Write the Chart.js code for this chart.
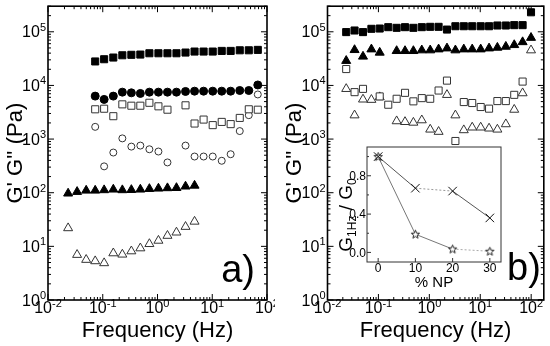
<!DOCTYPE html>
<html>
<head>
<meta charset="utf-8">
<script src="https://cdn.jsdelivr.net/npm/chart.js@4.4.1/dist/chart.umd.min.js"></script>
<style>
  html, body { margin: 0; padding: 0; background: #fff; }
  #wrap { position: relative; width: 550px; height: 346px; overflow: hidden; }
  canvas { position: absolute; }
  #chartA { left: 0; top: 0; }
  #chartB { left: 275px; top: 0; }
  #inset { left: 330px; top: 140px; }
</style>
</head>
<body>
<div id="wrap">
  <canvas id="chartA" width="275" height="346"></canvas>
  <canvas id="chartB" width="275" height="346"></canvas>
  <canvas id="inset" width="178" height="160"></canvas>
</div>
<script>
// frequency sweep (Hz), shared by both panels
const freqHz = [0.0233, 0.0340, 0.0498, 0.0728, 0.106, 0.156, 0.228, 0.333, 0.486, 0.711, 1.04, 1.52,
                2.22, 3.25, 4.75, 6.95, 10.2, 14.9, 21.7, 31.8, 46.5, 67.9, 99.3];

// panel a) G' (filled) and G'' (open), Pa
const aFilledSq = [null, null, null, 28000, 30800, 33100, 36500, 37200, 37600, 39800, 39800, 39800,
                   39800, 41000, 42800, 42800, 42800, 44000, 44000, 45200, 45200, 46000, null];
const aOpenSq = [null, null, null, 3590, 3680, 2670, 4440, 4190, 4190, 4750, 4080, 3530,
                 null, 4260, 1950, 2310, 1820, 2090, 1900, 2480, 3590, 3530, null];
const aFilledCirc = [null, null, null, 6320, 5490, 6320, 7500, 7280, 7090, 7500, 7500, 7500,
                     7500, 7720, 7820, 7820, 7820, 7820, 7820, 8050, 8050, 10200, null];
const aOpenCirc = [null, null, null, 1690, 310, 561, 1030, 724, 756, 646, 586, 367,
                   null, 756, 473, 473, 473, 394, 522, 1410, 2790, 6790, null];
const aFilledTri = [97, 104, 110, 110, 112, 115, 112, 113, 115, 118, 120, 122,
                    123, 131, 136, null, null, null, null, null, null, null, null];
const aOpenTri = [21.9, 6.97, 5.63, 5.31, 4.88, 7.46, 7.06, 8.12, 9.23, 11.1, 12.8, 15.8,
                  18.2, 23.2, 29.0, null, null, null, null, null, null, null, null];

// panel b)
const bFilledSq = [98700, 105700, 98700, 113600, 115000, 122000, 118500, 122000, 118500, 122000, 123700, 123700,
                   110000, 127000, 127000, 127000, 127000, 127000, 131000, 131000, 133000, 133000, 231000];
const bOpenSq = [20200, 7500, 8630, null, 6240, 4370, 5640, 7280, 5050, 5800, 5640, 8040,
                 12300, 921, 4900, 4700, 3960, 3690, 5110, 5110, 6680, 11800, null];
const bFilledTri = [28800, 45900, 34600, 47200, 41000, null, 44000, 44000, 44000, 45300, 45300, 47200,
                    49200, 45300, 47200, 47200, 47200, 49200, 50700, 52900, 56800, 64400, 77500];
const bOpenTri = [8630, 2780, 5490, 5410, 6060, null, 2160, 2090, 2030, 2250, 1510, 1370,
                  6680, 2780, 1470, 1650, 1650, 1580, 1510, 1900, 3540, 7180, 45300];

// inset: G(1Hz)/G0 vs % NP
const insetNP = [0, 10, 20, 30];
const insetCross = [1.0, 0.67, 0.64, 0.36];
const insetStar = [1.0, 0.19, 0.035, 0.012];

// tick labels
const xDecades = [-2, -1, 0, 1, 2];
const yDecades = [0, 1, 2, 3, 4, 5];
const insetXTicks = [0, 10, 20, 30];
const insetYTicks = [0.0, 0.4, 0.8];

const FONT = '"Liberation Sans", Arial, Helvetica, sans-serif';
Chart.defaults.font.family = FONT;

function pts(xs, ys) {
  return xs.map((x, i) => ({ x: x, y: ys[i] })).filter(p => p.y !== null);
}

function series(vals, shape, filled, r) {
  return {
    data: pts(freqHz, vals),
    pointStyle: shape,
    pointRadius: r,
    pointBackgroundColor: filled ? '#000' : '#fff',
    pointBorderColor: filled ? '#000' : '#333',
    pointBorderWidth: 1,
    showLine: false
  };
}

// "10" with a raised exponent
function pow10(ctx, e, x, y, align) {
  const base = '10', sup = String(e);
  ctx.font = '16px ' + FONT;
  const wb = ctx.measureText(base).width;
  ctx.font = '11px ' + FONT;
  const ws = ctx.measureText(sup).width;
  const left = align === 'right' ? x - wb - ws : x - (wb + ws) / 2;
  ctx.textAlign = 'left';
  ctx.textBaseline = 'alphabetic';
  ctx.font = '16px ' + FONT;
  ctx.fillText(base, left, y);
  ctx.font = '11px ' + FONT;
  ctx.fillText(sup, left + wb, y - 6.5);
}

function richText(ctx, parts, cx, cy) {
  let w = 0;
  parts.forEach(p => { ctx.font = p[1] + 'px ' + FONT; w += ctx.measureText(p[0]).width; });
  let x = cx - w / 2;
  ctx.textAlign = 'left';
  parts.forEach(p => {
    ctx.font = p[1] + 'px ' + FONT;
    ctx.fillText(p[0], x, cy + p[2]);
    x += ctx.measureText(p[0]).width;
  });
}

// frame, inward ticks, labels and titles for the log-log panels
const logFrame = {
  id: 'logFrame',
  afterDraw(chart, args, opts) {
    const { ctx, chartArea: a, scales: { x, y } } = chart;
    ctx.save();
    ctx.strokeStyle = '#000';
    ctx.fillStyle = '#000';
    ctx.lineWidth = 1;
    ctx.beginPath();
    xDecades.forEach(e => {
      for (let m = 1; m < 10; m++) {
        const v = m * Math.pow(10, e);
        if (v > x.max * 1.0001) break;
        const px = x.getPixelForValue(v);
        const len = m === 1 ? 6 : 3;
        ctx.moveTo(px, a.bottom); ctx.lineTo(px, a.bottom - len);
        ctx.moveTo(px, a.top); ctx.lineTo(px, a.top + len);
      }
    });
    yDecades.forEach(e => {
      for (let m = 1; m < 10; m++) {
        const v = m * Math.pow(10, e);
        if (v > y.max * 1.0001) break;
        const py = y.getPixelForValue(v);
        const len = m === 1 ? 6 : 3;
        ctx.moveTo(a.left, py); ctx.lineTo(a.left + len, py);
        ctx.moveTo(a.right, py); ctx.lineTo(a.right - len, py);
      }
    });
    ctx.stroke();
    ctx.lineWidth = 1.6;
    ctx.strokeRect(a.left, a.top, a.right - a.left, a.bottom - a.top);

    xDecades.forEach(e => pow10(ctx, e, x.getPixelForValue(Math.pow(10, e)), a.bottom + 13, 'center'));
    yDecades.forEach(e => pow10(ctx, e, a.left - 2, y.getPixelForValue(Math.pow(10, e)) + 5.5, 'right'));

    ctx.font = '22px ' + FONT;
    ctx.textAlign = 'center';
    ctx.fillText('Frequency (Hz)', (a.left + a.right) / 2, a.bottom + 37);
    ctx.save();
    ctx.translate(a.left - 26.5, (a.top + a.bottom) / 2);
    ctx.rotate(-Math.PI / 2);
    ctx.fillText("G' G'' (Pa)", 0, 0);
    ctx.restore();

    ctx.font = '38px ' + FONT;
    ctx.textAlign = 'right';
    ctx.fillText(opts.tag, a.right - opts.tagRight, a.bottom - opts.tagBase);
    ctx.restore();
  }
};

function logChart(id, datasets, xMax, leftW, place, tag) {
  return new Chart(document.getElementById(id), {
    type: 'scatter',
    data: { datasets: datasets },
    options: {
      responsive: false,
      animation: false,
      layout: { padding: { top: 3, right: place.pad, left: 0, bottom: 0 } },
      plugins: {
        legend: { display: false },
        tooltip: { enabled: false },
        logFrame: { tag: tag, tagRight: place.tagRight, tagBase: place.tagBase }
      },
      scales: {
        x: {
          type: 'logarithmic', min: 0.01, max: xMax,
          grid: { display: false }, border: { display: false }, ticks: { display: false },
          afterFit: s => { s.height = 46; }
        },
        y: {
          type: 'logarithmic', min: 1, max: 3e5,
          grid: { display: false }, border: { display: false }, ticks: { display: false },
          afterFit: s => { s.width = leftW; }
        }
      }
    },
    plugins: [logFrame]
  });
}

logChart('chartA', [
  series(aFilledSq, 'rect', true, 5),
  series(aFilledCirc, 'circle', true, 4),
  series(aOpenSq, 'rect', false, 5),
  series(aOpenCirc, 'circle', false, 3.5),
  series(aFilledTri, 'triangle', true, 5.2),
  series(aOpenTri, 'triangle', false, 5.2)
], 100, 48, { pad: 8, tagRight: 12, tagBase: 18 }, 'a)');

logChart('chartB', [
  series(bFilledSq, 'rect', true, 5),
  series(bFilledTri, 'triangle', true, 5.2),
  series(bOpenSq, 'rect', false, 5),
  series(bOpenTri, 'triangle', false, 5.2)
], 177, 52.5, { pad: 6, tagRight: 3, tagBase: 20 }, 'b)');

// outlined five-point star marker for the inset
function makeStar() {
  const c = document.createElement('canvas');
  c.width = 11; c.height = 11;
  const g = c.getContext('2d');
  g.beginPath();
  for (let i = 0; i < 10; i++) {
    const r = i % 2 ? 1.9 : 4.4, t = -Math.PI / 2 + i * Math.PI / 5;
    g.lineTo(5.5 + r * Math.cos(t), 5.8 + r * Math.sin(t));
  }
  g.closePath();
  g.fillStyle = '#fff'; g.fill();
  g.strokeStyle = '#222'; g.lineWidth = 1; g.stroke();
  return c;
}

const insetFrame = {
  id: 'insetFrame',
  beforeDatasetsDraw(chart) {
    const { ctx, chartArea: a } = chart;
    ctx.save();
    ctx.fillStyle = '#fff';
    ctx.fillRect(a.left, a.top, a.right - a.left, a.bottom - a.top);
    ctx.restore();
  },
  afterDraw(chart) {
    const { ctx, chartArea: a, scales: { x, y } } = chart;
    ctx.save();
    ctx.strokeStyle = '#333';
    ctx.fillStyle = '#000';
    ctx.lineWidth = 1;
    ctx.strokeRect(a.left, a.top, a.right - a.left, a.bottom - a.top);
    ctx.beginPath();
    insetYTicks.forEach(v => {
      const py = y.getPixelForValue(v);
      ctx.moveTo(a.left, py); ctx.lineTo(a.left + 4, py);
      const pm = y.getPixelForValue(v + 0.2);
      ctx.moveTo(a.left, pm); ctx.lineTo(a.left + 2, pm);
    });
    insetXTicks.forEach(v => {
      const px = x.getPixelForValue(v);
      ctx.moveTo(px, a.bottom); ctx.lineTo(px, a.bottom - 4);
    });
    ctx.stroke();

    ctx.font = '12px ' + FONT;
    ctx.textBaseline = 'alphabetic';
    ctx.textAlign = 'right';
    insetYTicks.forEach(v => ctx.fillText(v.toFixed(1), a.left - 1, y.getPixelForValue(v) + 4.3));
    ctx.textAlign = 'center';
    insetXTicks.forEach(v => ctx.fillText(String(v), x.getPixelForValue(v), a.bottom + 10));

    ctx.font = '15px ' + FONT;
    ctx.fillText('% NP', (a.left + a.right) / 2, a.bottom + 25);

    ctx.save();
    ctx.translate(a.left - 15, a.top + 68);
    ctx.rotate(-Math.PI / 2);
    richText(ctx, [['G', 19, 0], ['1Hz', 12, 4], [' / ', 19, 0], ['G', 19, 0], ['0', 12, 4]], 0, 0);
    ctx.restore();
    ctx.restore();
  }
};

new Chart(document.getElementById('inset'), {
  type: 'scatter',
  data: {
    datasets: [
      {
        data: pts(insetNP, insetCross),
        showLine: true,
        borderColor: '#555',
        borderWidth: 1,
        segment: {
          borderDash: c => c.p0DataIndex === 1 ? [2, 2] : undefined,
          borderColor: c => c.p0DataIndex === 1 ? '#999' : undefined
        },
        pointStyle: 'crossRot',
        pointRadius: 6,
        pointBorderColor: '#111',
        pointBorderWidth: 1
      },
      {
        data: pts(insetNP, insetStar),
        showLine: true,
        borderColor: '#777',
        borderWidth: 1,
        segment: {
          borderDash: c => c.p0DataIndex === 2 ? [2, 2] : undefined,
          borderColor: c => c.p0DataIndex === 2 ? '#aaa' : undefined
        },
        pointStyle: makeStar(),
        pointRadius: 5
      }
    ]
  },
  options: {
    responsive: false,
    animation: false,
    layout: { padding: { top: 5, right: 5, left: 0, bottom: 0 } },
    plugins: { legend: { display: false }, tooltip: { enabled: false } },
    scales: {
      x: {
        type: 'linear', min: -3, max: 33,
        grid: { display: false }, border: { display: false }, ticks: { display: false },
        afterFit: s => { s.height = 38; }
      },
      y: {
        type: 'linear', min: -0.1, max: 1.1,
        grid: { display: false }, border: { display: false }, ticks: { display: false },
        afterFit: s => { s.width = 37; }
      }
    }
  },
  plugins: [insetFrame]
});
</script>
</body>
</html>
